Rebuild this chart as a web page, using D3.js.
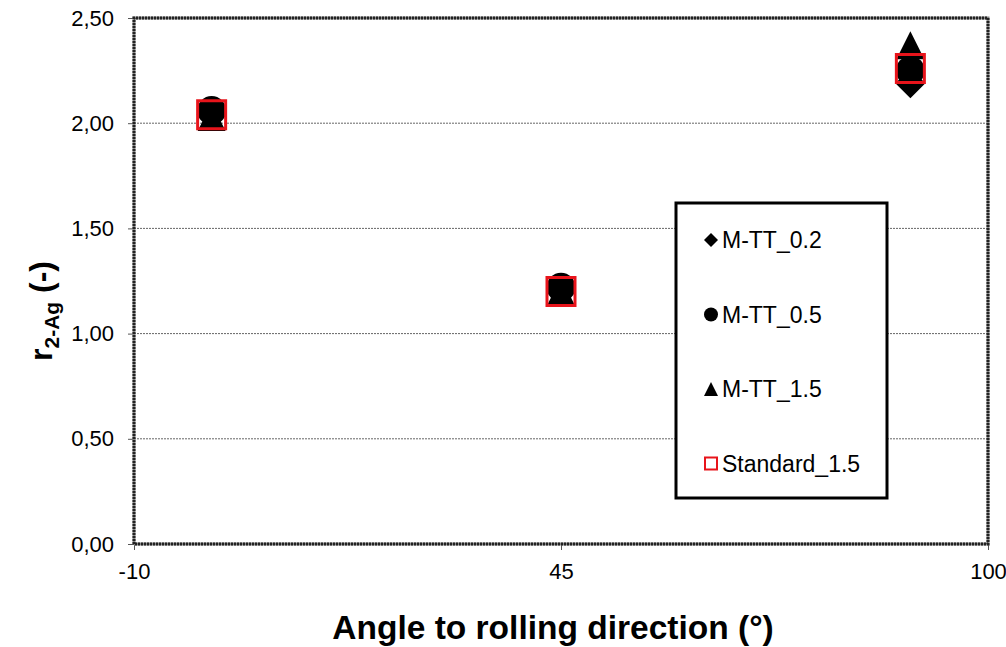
<!DOCTYPE html>
<html>
<head>
<meta charset="utf-8">
<script src="https://cdn.jsdelivr.net/npm/d3@7"></script>
<style>
  body { margin: 0; background: #fff; }
  svg { display: block; font-family: Arial, "Liberation Sans", sans-serif; }
</style>
</head>
<body>
<div id="chart"></div>
<script>
// angles (x values)
const angles = [0, 45, 90];
// series values
const seriesNames = ["M-TT_0.2", "M-TT_0.5", "M-TT_1.5", "Standard_1.5"];
const mtt02 = [2.04, 1.20, 2.19];
const mtt05 = [2.06, 1.22, 2.25];
const mtt15 = [2.03, 1.20, 2.37];
const standard15 = [2.04, 1.20, 2.26];
const yTicks = [0, 0.5, 1, 1.5, 2, 2.5];
const xTicks = [-10, 45, 100];

const width = 1006;
const height = 647;
const marginTop = 18;
const marginRight = 18;
const marginBottom = 103;
const marginLeft = 134;
const font = "Arial, 'Liberation Sans', sans-serif";

const x = d3.scaleLinear()
    .domain([-10, 100])
    .range([marginLeft, width - marginRight]);

const y = d3.scaleLinear()
    .domain([0, 2.5])
    .range([height - marginBottom, marginTop]);

const svg = d3.select("#chart").append("svg")
    .attr("width", width)
    .attr("height", height)
    .attr("viewBox", [0, 0, width, height]);

// lignes de grille
svg.append("g")
    .selectAll("line")
    .data(yTicks.filter(d => d > 0 && d < 2.5))
    .join("line")
    .attr("x1", x(-10))
    .attr("x2", x(100))
    .attr("y1", d => y(d))
    .attr("y2", d => y(d))
    .attr("stroke", "#666")
    .attr("stroke-width", 1)
    .attr("stroke-dasharray", "2,1");

// axe y
const yAxis = svg.append("g")
    .attr("transform", `translate(${marginLeft},0)`)
    .call(d3.axisLeft(y).tickValues(yTicks).tickSize(6).tickPadding(14)
        .tickFormat(d => d3.format(".2f")(d).replace(".", ",")));
yAxis.select(".domain").remove();
yAxis.selectAll("text").attr("font-size", 22).attr("fill", "#000").attr("font-family", font);
yAxis.selectAll("line").attr("stroke", "#555");

// axe x
const xAxis = svg.append("g")
    .attr("transform", `translate(0,${height - marginBottom})`)
    .call(d3.axisBottom(x).tickValues(xTicks).tickSize(6).tickPadding(13)
        .tickFormat(d => String(d)));
xAxis.select(".domain").remove();
xAxis.selectAll("text").attr("font-size", 22).attr("fill", "#000").attr("font-family", font);
xAxis.selectAll("line").attr("stroke", "#555");

// cadre du graphe
const frame = [[-10, 0], [-10, 2.5], [100, 2.5], [100, 0], [-10, 0]];
svg.append("path")
    .attr("d", d3.line().x(d => x(d[0])).y(d => y(d[1]))(frame))
    .attr("fill", "none")
    .attr("stroke", "#888")
    .attr("stroke-width", 3);
svg.append("path")
    .attr("d", d3.line().x(d => x(d[0])).y(d => y(d[1]))(frame))
    .attr("fill", "none")
    .attr("stroke", "#222")
    .attr("stroke-width", 3)
    .attr("stroke-dasharray", "2,1");

// formes des marqueurs (centrées sur 0,0)
function markerPath(kind, s) {
    const h = s / 2;
    if (kind === "diamond") return `M0,${-h}L${h},0L0,${h}L${-h},0Z`;
    if (kind === "circle") return `M${h},0A${h},${h} 0 1,1 ${-h},0A${h},${h} 0 1,1 ${h},0Z`;
    if (kind === "triangle") return `M0,${-h}L${h},${h}L${-h},${h}Z`;
    return `M${-h},${-h}H${h}V${h}H${-h}Z`;
}

const series = [
    { name: seriesNames[0], values: mtt02, kind: "diamond", size: 30 },
    { name: seriesNames[1], values: mtt05, kind: "circle", size: 29 },
    { name: seriesNames[2], values: mtt15, kind: "triangle", size: 28 },
    { name: seriesNames[3], values: standard15, kind: "square", size: 28 }
];

const serie = svg.append("g")
    .selectAll("g")
    .data(series)
    .join("g");

serie.selectAll("path")
    .data(s => s.values.map((v, i) => ({ angle: angles[i], r: v, s })))
    .join("path")
    .attr("transform", d => `translate(${x(d.angle)},${y(d.r)})`)
    .attr("d", d => markerPath(d.s.kind, d.s.size))
    .attr("fill", d => d.s.kind === "square" ? "none" : "#000")
    .attr("stroke", d => d.s.kind === "square" ? "#e8141b" : "none")
    .attr("stroke-width", 3);

// légende
const legend = svg.append("g");
legend.append("rect")
    .attr("x", 676)
    .attr("y", 203)
    .attr("width", 211)
    .attr("height", 295)
    .attr("fill", "#fff")
    .attr("stroke", "#000")
    .attr("stroke-width", 3);

const legends = legend.selectAll(".legend")
    .data(series)
    .join("g")
    .attr("class", "legend")
    .attr("transform", (d, i) => `translate(711,${240 + i * 74.5})`);

legends.append("path")
    .attr("d", d => markerPath(d.kind, d.kind === "square" ? 12 : 14))
    .attr("fill", d => d.kind === "square" ? "none" : "#000")
    .attr("stroke", d => d.kind === "square" ? "#e8141b" : "none")
    .attr("stroke-width", 2);

legends.append("text")
    .attr("x", 11)
    .attr("dy", "0.35em")
    .attr("font-size", 23)
    .text(d => d.name);

// titres des axes
svg.append("text")
    .attr("x", 553)
    .attr("y", 639)
    .attr("text-anchor", "middle")
    .attr("font-weight", "bold")
    .attr("font-size", 33.5)
    .text("Angle to rolling direction (°)");

const yTitle = svg.append("text")
    .attr("transform", "translate(52,361) rotate(-90)")
    .attr("text-anchor", "start")
    .attr("font-weight", "bold")
    .attr("font-size", 32);
yTitle.append("tspan").text("r");
yTitle.append("tspan").attr("font-size", 21).attr("dy", 7).text("2-Ag");
yTitle.append("tspan").attr("dy", -7).text(" (-)");
</script>
</body>
</html>
